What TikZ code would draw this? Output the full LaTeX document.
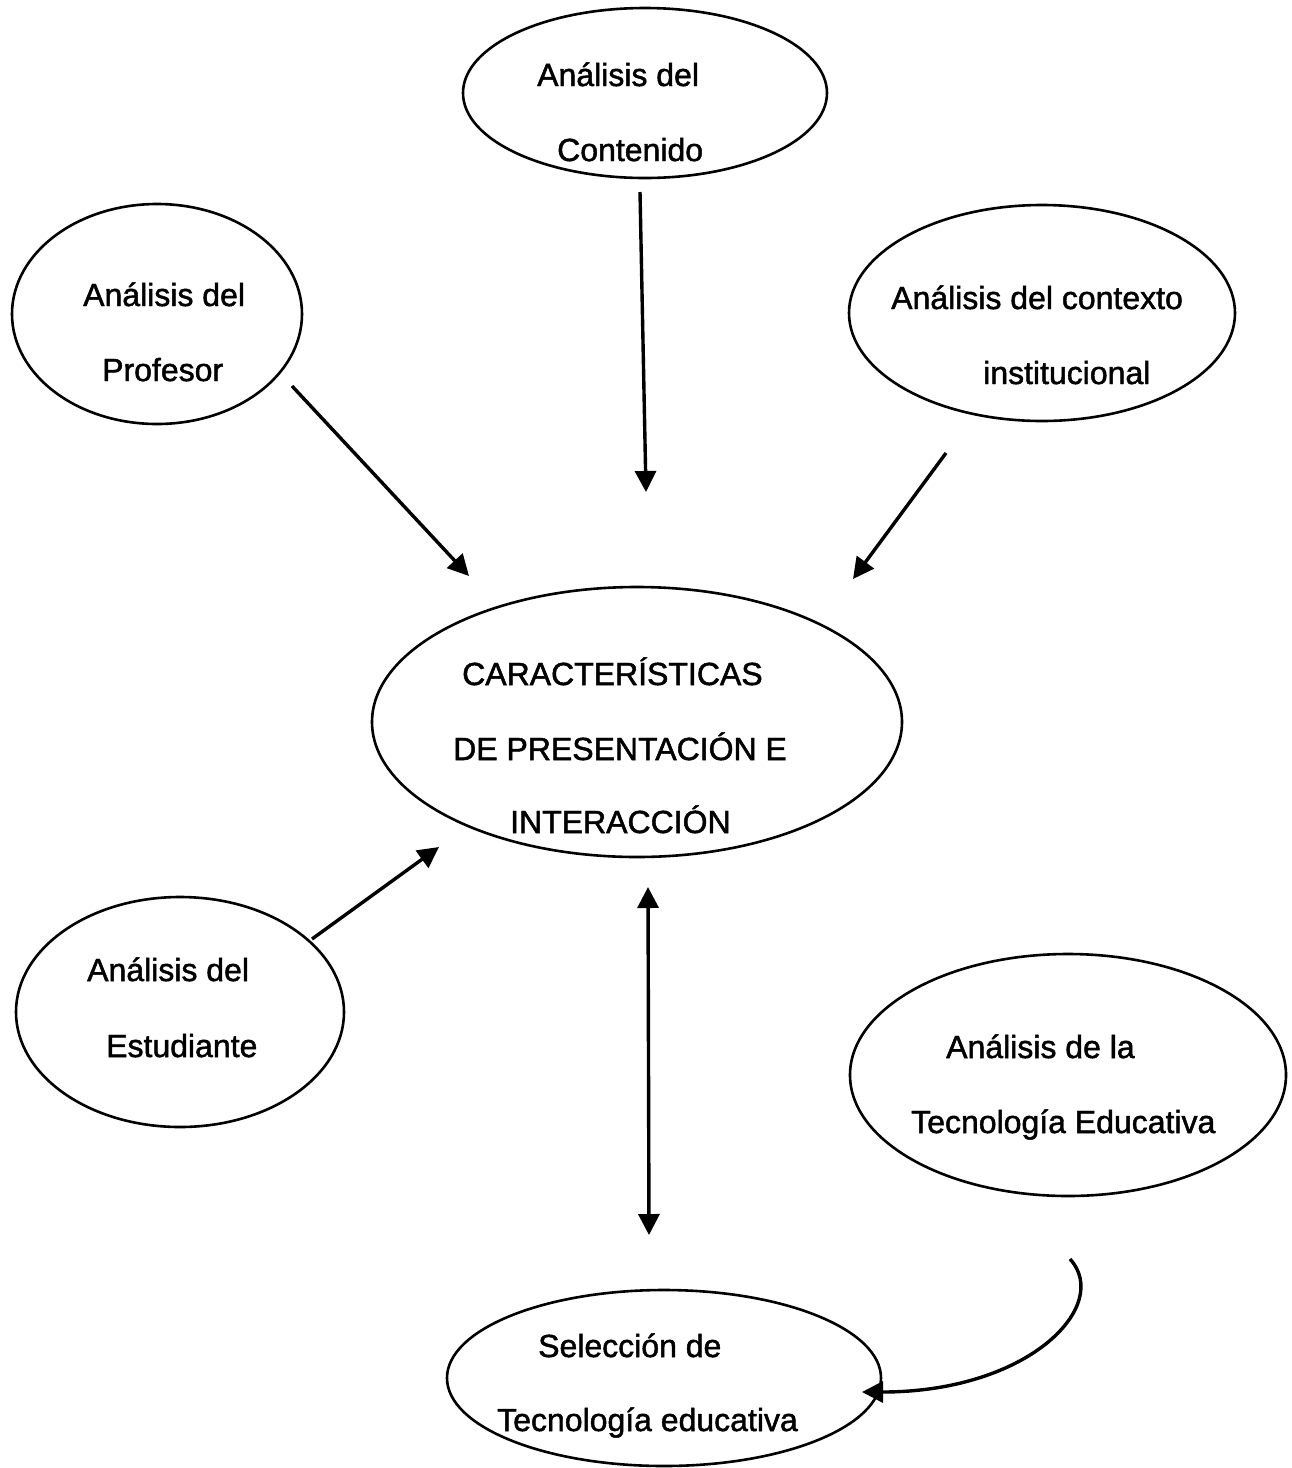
\documentclass[tikz,border=0pt]{standalone}
\usepackage{fontspec}
\setmainfont{Liberation Sans}
\newfontfamily\scanfont{Liberation Sans}[FakeBold=1.5]
\usetikzlibrary{shapes.geometric,arrows.meta}
\tikzset{
  oval/.style={draw, ellipse, line width=2.6pt, inner sep=0pt, minimum width=#1},
  lbl/.style={anchor=base west, inner sep=0pt, font=\scanfont\fontsize{32}{38}\selectfont},
  arr/.style={line width=3.4pt, -{Triangle[length=21pt,width=21pt]}},
  darr/.style={line width=3.4pt, {Triangle[length=21pt,width=21pt]}-{Triangle[length=21pt,width=21pt]}}
}
\begin{document}
\begin{tikzpicture}[x=1pt,y=-1pt]
\useasboundingbox (0,0) rectangle (1292,1468);
% ellipses
\node[oval=364pt, minimum height=170pt] (cont) at (645,93) {};
\node[oval=290pt, minimum height=220pt] (prof) at (157,314) {};
\node[oval=386pt, minimum height=216pt] (ctx) at (1042,313) {};
\node[oval=530pt, minimum height=270pt] (car) at (637,722) {};
\node[oval=328pt, minimum height=230pt] (est) at (180,1012) {};
\node[oval=436pt, minimum height=242pt] (tec) at (1068,1075) {};
\node[oval=434pt, minimum height=176pt] (sel) at (664,1378) {};
% labels
\node[lbl] (t1a) at (537,86) {Análisis del};
\node[lbl] (t1b) at (557,161) {Contenido};
\node[lbl] (t2a) at (83,306) {Análisis del};
\node[lbl] (t2b) at (102,381) {Profesor};
\node[lbl] (t3a) at (891,309) {Análisis del contexto};
\node[lbl] (t3b) at (983,384) {institucional};
\node[lbl] (t4a) at (462,685) {CARACTERÍSTICAS};
\node[lbl] (t4b) at (453,760) {DE PRESENTACIÓN E};
\node[lbl] (t4c) at (510,833) {INTERACCIÓN};
\node[lbl] (t5a) at (87,981) {Análisis del};
\node[lbl] (t5b) at (106,1057) {Estudiante};
\node[lbl] (t6a) at (946,1058) {Análisis de la};
\node[lbl] (t6b) at (911,1133) {Tecnología Educativa};
\node[lbl] (t7a) at (538,1357) {Selección de};
\node[lbl] (t7b) at (497,1431) {Tecnología educativa};
% connector ends
\coordinate (c1s) at (640,192);
\coordinate (c1e) at (646,492);
\coordinate (c2s) at (292,386);
\coordinate (c2e) at (469,576);
\coordinate (c3s) at (946,453);
\coordinate (c3e) at (853,579);
\coordinate (c4s) at (312,939);
\coordinate (c4e) at (439,847);
\coordinate (c5s) at (648,887);
\coordinate (c5e) at (649,1235);
\coordinate (c6s) at (1070,1259);
\coordinate (c6e) at (862,1392);
% connectors
\draw[arr] (c1s) -- (c1e);
\draw[arr] (c2s) -- (c2e);
\draw[arr] (c3s) -- (c3e);
\draw[arr] (c4s) -- (c4e);
\draw[darr] (c5s) -- (c5e);
\draw[arr] (c6s) .. controls (1112,1305) and (1030,1392) .. (c6e);
\end{tikzpicture}
\end{document}
